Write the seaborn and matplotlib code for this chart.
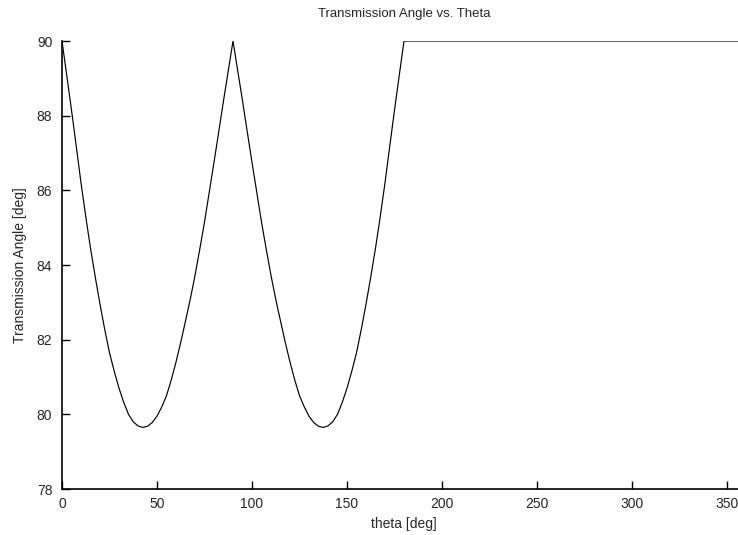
import numpy as np
import pandas as pd
import matplotlib
matplotlib.use("Agg")
import matplotlib.pyplot as plt
import seaborn as sns

# sample angles (deg) for the two humps, then flat to 360
theta = list(np.arange(0, 180.1, 2.5)) + [360.0]

# transmission angle (deg)
trans_angle = [
    90.0, 89.08, 88.15, 87.18, 86.2, 85.3, 84.45, 83.68, 82.95, 82.27,
    81.65, 81.15, 80.7, 80.32, 80.0, 79.8, 79.69, 79.65, 79.68, 79.78,
    79.95, 80.2, 80.5, 80.92, 81.4, 81.93, 82.5, 83.08, 83.72, 84.42,
    85.15, 85.95, 86.75, 87.57, 88.4, 89.2, 90.0,
    89.2, 88.4, 87.57, 86.75, 85.95, 85.15, 84.42, 83.72, 83.08, 82.5,
    81.93, 81.4, 80.92, 80.5, 80.2, 79.95, 79.78, 79.68, 79.65, 79.69,
    79.8, 80.0, 80.32, 80.7, 81.15, 81.65, 82.27, 82.95, 83.68, 84.45,
    85.3, 86.2, 87.18, 88.15, 89.08, 90.0,
    90.0,
]

x_ticks = [0, 50, 100, 150, 200, 250, 300, 350]
y_ticks = [78, 80, 82, 84, 86, 88, 90]

sns.set_style("ticks")
plt.rcParams['font.family'] = ['Liberation Sans', 'DejaVu Sans']

df = pd.DataFrame({"theta": theta, "angle": trans_angle})

fig = plt.figure(figsize=(7.38, 5.35), dpi=100)
ax = fig.add_axes([62 / 738, 46 / 535, 684 / 738, 448 / 535])

sns.lineplot(data=df, x="theta", y="angle", ax=ax, color="black",
             linewidth=0.85, sort=False, estimator=None)

ax.set_xlim(0, 360)
ax.set_ylim(78, 90)
ax.set_xticks(x_ticks)
ax.set_yticks(y_ticks)
ax.tick_params(direction="in", length=6, width=1, labelsize=10, color="black")
ax.tick_params(axis="y", pad=7)
ax.tick_params(axis="x", pad=6)

for side in ["top", "right"]:
    ax.spines[side].set_visible(False)
for side in ["left", "bottom"]:
    ax.spines[side].set_linewidth(1.2)
    ax.spines[side].set_color("black")

ax.set_title("Transmission Angle vs. Theta", fontsize=9.5, pad=17)
ax.set_xlabel("theta [deg]", fontsize=10, labelpad=4)
ax.set_ylabel("Transmission Angle [deg]", fontsize=10, labelpad=7)
ax.grid(False)

fig.savefig("out.png", dpi=100)
plt.close(fig)
